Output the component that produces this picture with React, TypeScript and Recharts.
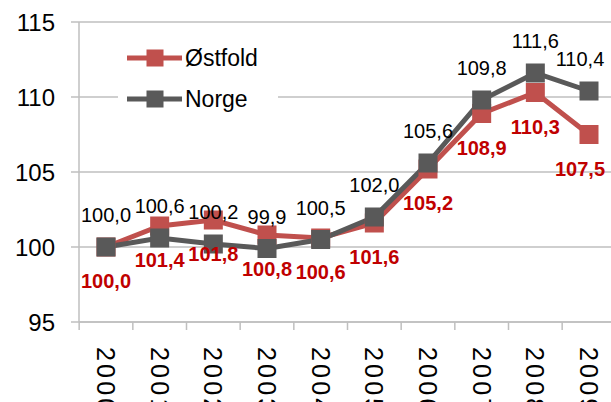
import React from 'react';
import { LineChart, Line, XAxis, YAxis, CartesianGrid, Legend, LabelList } from 'recharts';

const years = ['2000', '2001', '2002', '2003', '2004', '2005', '2006', '2007', '2008', '2009'];
const ostfold = [100.0, 101.4, 101.8, 100.8, 100.6, 101.6, 105.2, 108.9, 110.3, 107.5];
const norge = [100.0, 100.6, 100.2, 99.9, 100.5, 102.0, 105.6, 109.8, 111.6, 110.4];
const yTicks = [95, 100, 105, 110, 115];

const data = years.map((year, i) => ({ year, ostfold: ostfold[i], norge: norge[i] }));

const FONT = '"Liberation Sans", Arial, sans-serif';
const RED = '#C0504D';
const GREY = '#595959';
const LABEL_RED = '#C00000';
const AXIS = '#BFBFBF';

const CHART_W = 630;
const CHART_H = 402;
const VIEW_W = 611;
const Y_AXIS_W = 79;
const RIGHT = 14;
const PAD = 27;
const STEP = (CHART_W - Y_AXIS_W - RIGHT - 2 * PAD) / (years.length - 1);

const fmt = (v: number) => v.toFixed(1).replace('.', ',');
// keep value labels inside the visible area
const clampX = (x: number) => Math.min(x, VIEW_W - 31);

const squareDot = (color: string) => (props: any) => {
    const { cx, cy, index } = props;
    return <rect key={index} x={cx - 9.5} y={cy - 9.5} width={19} height={19} fill={color} />;
};

const XTick = (props: any) => {
    const { x, y, payload, index } = props;
    return (
        <g>
            <line x1={x - STEP / 2} y1={y} x2={x - STEP / 2} y2={y + 8} stroke={AXIS} strokeWidth={1.5} />
            {index === years.length - 1 && (
                <line x1={x + STEP / 2} y1={y} x2={x + STEP / 2} y2={y + 8} stroke={AXIS} strokeWidth={1.5} />
            )}
            <text
                transform={`translate(${x},${y + 25}) rotate(90)`}
                textAnchor="start"
                dominantBaseline="central"
                fontSize={25}
                letterSpacing={3.2}
                fontFamily={FONT}
                fill="#000"
            >
                {payload.value}
            </text>
        </g>
    );
};

const topLabel = (props: any) => {
    const { x, y, value, index } = props;
    return (
        <text key={index} x={clampX(x)} y={y - 32} textAnchor="middle" dominantBaseline="central"
            fontSize={20} fontFamily={FONT} fill="#000">
            {fmt(value)}
        </text>
    );
};

const bottomLabel = (props: any) => {
    const { x, y, value, index } = props;
    return (
        <text key={index} x={clampX(x)} y={y + 34} textAnchor="middle" dominantBaseline="central"
            fontSize={20} fontWeight="bold" fontFamily={FONT} fill={LABEL_RED}>
            {fmt(value)}
        </text>
    );
};

const legendItems = [
    { name: 'Østfold', color: RED },
    { name: 'Norge', color: GREY },
];

const LegendBox = () => (
    <svg width={160} height={84}>
        <rect x={0} y={0} width={160} height={84} fill="#fff" />
        {legendItems.map((item, i) => {
            const cy = 22 + i * 41;
            return (
                <g key={item.name}>
                    <line x1={9} y1={cy} x2={64} y2={cy} stroke={item.color} strokeWidth={5} />
                    <rect x={28.5} y={cy - 8.5} width={17} height={17} fill={item.color} />
                    <text x={67} y={cy} dominantBaseline="central" fontSize={23} fontFamily={FONT} fill="#000">
                        {item.name}
                    </text>
                </g>
            );
        })}
    </svg>
);

export default function App() {
    return (
        <div style={{ position: 'absolute', left: 0, top: 0, width: VIEW_W, height: 402, overflow: 'hidden', background: '#fff' }}>
            <LineChart width={CHART_W} height={CHART_H} data={data} margin={{ top: 22, right: RIGHT, left: 0, bottom: 0 }}>
                <CartesianGrid vertical={false} stroke={AXIS} strokeWidth={1.5} />
                <XAxis
                    dataKey="year"
                    height={80}
                    padding={{ left: PAD, right: PAD }}
                    axisLine={{ stroke: AXIS, strokeWidth: 1.5 }}
                    tickLine={false}
                    tickSize={0}
                    tickMargin={0}
                    interval={0}
                    tick={<XTick />}
                />
                <YAxis
                    width={Y_AXIS_W}
                    domain={[95, 115]}
                    ticks={yTicks}
                    allowDataOverflow
                    axisLine={{ stroke: AXIS, strokeWidth: 1.5 }}
                    tickLine={{ stroke: AXIS, strokeWidth: 1.5 }}
                    tickSize={8}
                    tickMargin={16}
                    tick={{ fontSize: 24, fontFamily: FONT, fill: '#000' }}
                />
                <Legend
                    layout="vertical"
                    align="center"
                    verticalAlign="middle"
                    wrapperStyle={{ left: 118, top: 36, width: 160, height: 84 }}
                    content={() => <LegendBox />}
                />
                <Line
                    dataKey="ostfold"
                    name="Østfold"
                    stroke={RED}
                    strokeWidth={5}
                    dot={squareDot(RED)}
                    activeDot={false}
                    isAnimationActive={false}
                >
                    <LabelList dataKey="ostfold" content={bottomLabel} />
                </Line>
                <Line
                    dataKey="norge"
                    name="Norge"
                    stroke={GREY}
                    strokeWidth={5}
                    dot={squareDot(GREY)}
                    activeDot={false}
                    isAnimationActive={false}
                >
                    <LabelList dataKey="norge" content={topLabel} />
                </Line>
            </LineChart>
        </div>
    );
}
